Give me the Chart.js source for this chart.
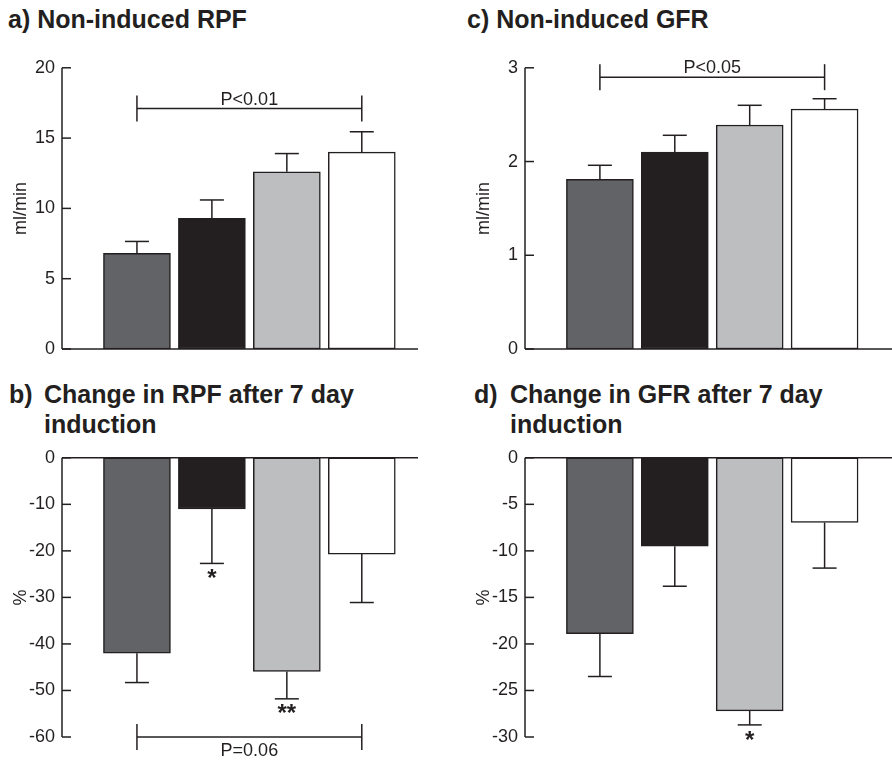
<!DOCTYPE html>
<html>
<head>
<meta charset="utf-8">
<script src="https://cdn.jsdelivr.net/npm/chart.js@4.4.1/dist/chart.umd.min.js"></script>
<style>
  body { margin: 0; background: #fff; width: 892px; height: 760px; position: relative; overflow: hidden;
         font-family: 'Liberation Sans', Arial, sans-serif; color: #231f20; }
  .ttl { position: absolute; font-weight: bold; font-size: 25px; line-height: 30px; white-space: nowrap; }
  .box { position: absolute; }
</style>
</head>
<body>
<div class="ttl" style="left:8px;top:4px">a) Non-induced RPF</div>
<div class="ttl" style="left:467px;top:4px">c) Non-induced GFR</div>
<div class="ttl" style="left:9px;top:379px">b)</div>
<div class="ttl" style="left:44px;top:379px">Change in RPF after 7 day<br>induction</div>
<div class="ttl" style="left:474px;top:379px">d)</div>
<div class="ttl" style="left:510px;top:379px">Change in GFR after 7 day<br>induction</div>

<div class="box" style="left:0;top:50px;width:418px;height:320px"><canvas id="chartA"></canvas></div>
<div class="box" style="left:463px;top:50px;width:429px;height:320px"><canvas id="chartC"></canvas></div>
<div class="box" style="left:0;top:440px;width:418px;height:320px"><canvas id="chartB"></canvas></div>
<div class="box" style="left:463px;top:440px;width:429px;height:320px"><canvas id="chartD"></canvas></div>

<script>
// group positions along x (4 groups, unnamed in the figure)
const groups = [1, 2, 3, 4];

// a) non-induced RPF, ml/min
const rpfBase = [6.8, 9.3, 12.6, 14.0];
const rpfBaseErr = [0.85, 1.3, 1.3, 1.45];
// c) non-induced GFR, ml/min
const gfrBase = [1.81, 2.10, 2.39, 2.56];
const gfrBaseErr = [0.15, 0.18, 0.21, 0.11];
// b) change in RPF after 7 day induction, %
const rpfChange = [-42.0, -11.0, -45.9, -20.7];
const rpfChangeErr = [6.3, 11.7, 5.9, 10.4];
const rpfChangeStars = ['', '*', '**', ''];
// d) change in GFR after 7 day induction, %
const gfrChange = [-18.9, -9.5, -27.2, -6.95];
const gfrChangeErr = [4.6, 4.3, 1.5, 4.9];
const gfrChangeStars = ['', '', '*', ''];

// significance brackets: [from group, to group, value level, label]
const bracketA = [1, 4, 17.1, 'P<0.01'];
const bracketC = [1, 4, 2.90, 'P<0.05'];
const bracketB = [1, 4, -60, 'P=0.06'];

const ink = '#231f20';
const fills = ['#626366', '#231f20', '#bcbec0', '#ffffff'];
const fam = "'Liberation Sans', Arial, sans-serif";

function extras(vals, errs, stars, bracket) {
  return {
    id: 'extras',
    afterDatasetsDraw(chart) {
      const ctx = chart.ctx, area = chart.chartArea;
      const x = chart.scales.x, y = chart.scales.y;
      const seg = (x1, y1, x2, y2) => { ctx.beginPath(); ctx.moveTo(x1, y1); ctx.lineTo(x2, y2); ctx.stroke(); };
      ctx.save();
      ctx.strokeStyle = ink;
      ctx.fillStyle = ink;
      ctx.lineWidth = 1.5;
      // axes
      const y0 = y.getPixelForValue(0);
      seg(area.left, y0, area.right, y0);
      seg(area.left, area.top, area.left, area.bottom);
      // inward tick marks
      y.ticks.forEach(t => {
        const py = y.getPixelForValue(t.value);
        seg(area.left, py, area.left + 9, py);
      });
      // one-sided error bars + stars
      vals.forEach((v, i) => {
        const end = v >= 0 ? v + errs[i] : v - errs[i];
        const px = x.getPixelForValue(groups[i]);
        const p1 = y.getPixelForValue(v), p2 = y.getPixelForValue(end);
        seg(px, p1, px, p2);
        seg(px - 12, p2, px + 12, p2);
        if (stars && stars[i]) {
          ctx.font = 'bold 24px ' + fam;
          ctx.textAlign = 'center';
          ctx.textBaseline = 'middle';
          ctx.fillText(stars[i], px, p2 + 16);
        }
      });
      // bracket
      if (bracket) {
        const bx1 = x.getPixelForValue(bracket[0]), bx2 = x.getPixelForValue(bracket[1]);
        const by = y.getPixelForValue(bracket[2]);
        seg(bx1, by, bx2, by);
        seg(bx1, by - 13, bx1, by + 13);
        seg(bx2, by - 13, bx2, by + 13);
        ctx.font = '18px ' + fam;
        ctx.textAlign = 'center';
        if (bracket[2] < 0) {
          ctx.textBaseline = 'top';
          ctx.fillText(bracket[3], (bx1 + bx2) / 2, by + 5);
        } else {
          ctx.textBaseline = 'alphabetic';
          ctx.fillText(bracket[3], (bx1 + bx2) / 2, by - 4);
        }
      }
      ctx.restore();
    }
  };
}

function makeChart(id, vals, errs, stars, bracket, yMin, yMax, step, yTitle, xMax, padTop, padBottom) {
  return new Chart(document.getElementById(id), {
    type: 'bar',
    data: {
      datasets: [{
        data: groups.map((g, i) => ({ x: g, y: vals[i] })),
        backgroundColor: fills,
        borderColor: ink,
        borderWidth: 1.5,
        borderSkipped: false,
        barThickness: 67
      }]
    },
    options: {
      responsive: true,
      maintainAspectRatio: false,
      animation: false,
      layout: { padding: { top: padTop, bottom: padBottom, left: 0, right: 0 } },
      plugins: { legend: { display: false }, tooltip: { enabled: false } },
      scales: {
        x: { type: 'linear', display: false, min: 0, max: xMax, offset: false },
        y: {
          min: yMin, max: yMax,
          ticks: { stepSize: step, color: ink, padding: 7, font: { size: 18, family: fam } },
          grid: { display: false, drawTicks: false },
          border: { display: false },
          title: { display: true, text: yTitle, color: ink, font: { size: 18, family: fam }, padding: { top: 10, bottom: 0 } },
          afterFit(s) { s.width = 62; }
        }
      }
    },
    plugins: [extras(vals, errs, stars, bracket)]
  });
}

makeChart('chartA', rpfBase, rpfBaseErr, null, bracketA, 0, 20, 5, 'ml/min', 4.75, 17, 21);
makeChart('chartC', gfrBase, gfrBaseErr, null, bracketC, 0, 3, 1, 'ml/min', 4.9, 17, 21);
makeChart('chartB', rpfChange, rpfChangeErr, rpfChangeStars, bracketB, -60, 0, 10, '%', 4.75, 16, 23);
makeChart('chartD', gfrChange, gfrChangeErr, gfrChangeStars, null, -30, 0, 5, '%', 4.9, 16, 23);
</script>
</body>
</html>
